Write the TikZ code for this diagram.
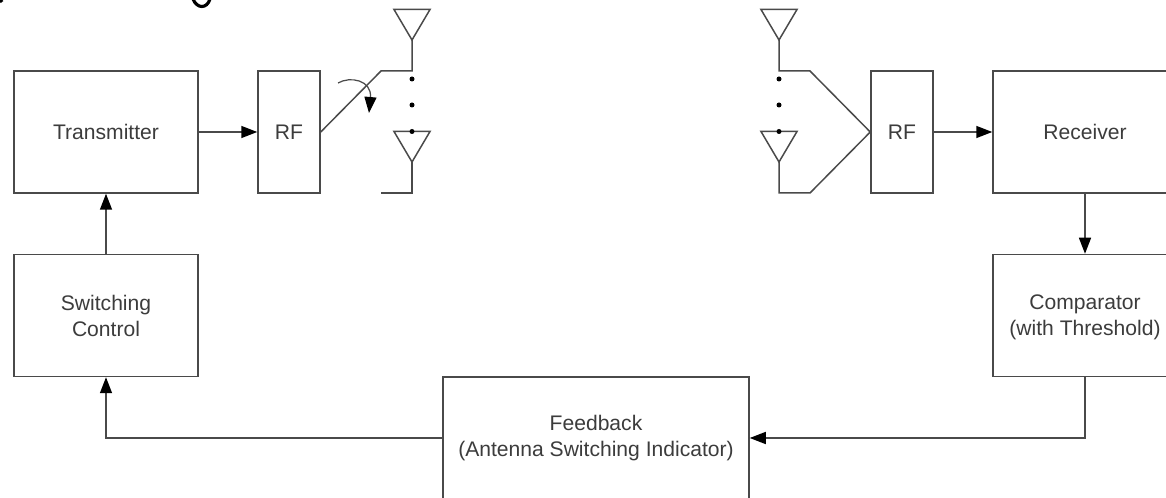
\documentclass[tikz,border=0pt]{standalone}
\usepackage{fontspec}
\setmainfont{Liberation Sans}
\usepackage{xcolor}
\usepackage{tikz}
\usetikzlibrary{arrows.meta}
\definecolor{linegray}{HTML}{4A4A4A}
\definecolor{textgray}{HTML}{3C3C3C}

\begin{document}
\begin{tikzpicture}[
            font=\fontsize{12}{14.8}\selectfont,
            >={Triangle[length=0.32cm, width=0.24cm, color=black]},
            line width=0.85pt,
            every node/.style={align=center, text=textgray},
            block/.style={draw=linegray, line width=0.85pt, minimum height=2.44cm, inner sep=0pt},
            wide/.style={block, minimum width=3.68cm},
            narrow/.style={block, minimum width=1.24cm},
            link/.style={draw=linegray, ->},
            aerial/.style={draw=linegray, line join=miter}
        ]
        \useasboundingbox (0, 0) rectangle (23.32, 9.96);

        % Vertical placement of rows
        \def\ytop{7.32}    % Transmitter and receiver row
        \def\ymid{3.65}    % Switching control and comparator row
        \def\ybot{1.20}    % Feedback row

        % Antenna levels
        \def\atop{9.77}    % Upper triangle top
        \def\atip{9.16}    % Upper triangle tip
        \def\ahi{8.54}     % Upper feed
        \def\btop{7.33}    % Lower triangle top
        \def\btip{6.72}    % Lower triangle tip
        \def\alo{6.10}     % Lower feed

        % Antenna columns
        \def\xtx{8.24}     % Transmit antennas
        \def\xrx{15.58}    % Receive antennas
        \def\ahalf{0.36}   % Half width of a triangle

        % --- Blocks ---
        \node[wide] (transmitter) at (2.12, \ytop) {Transmitter};
        \node[narrow] (rftx) at (5.78, \ytop) {RF};
        \node[narrow] (rfrx) at (18.04, \ytop) {RF};
        \node[wide] (receiver) at (21.70, \ytop) {Receiver};
        \node[wide] (control) at (2.12, \ymid) {Switching\\Control};
        \node[wide, text depth=0pt] (comparator) at (21.70, \ymid) {Comparator\\(with Threshold)};
        \node[block, minimum width=6.12cm] (feedback) at (11.92, \ybot) {Feedback\\(Antenna Switching Indicator)};

        % --- Connectors ---
        \draw[link] (transmitter) -- (rftx);
        \draw[link] (rfrx) -- (receiver);
        \draw[link] (receiver) -- (comparator);
        \draw[link] (control) -- (transmitter);
        \draw[link] (comparator.south) |- (feedback.east);
        \draw[link] (feedback.west) -| (control.south);

        % --- Transmit antennas ---
        \coordinate (txhi) at (\xtx, \ahi);
        \coordinate (txlo) at (\xtx, \alo);
        \coordinate (txarm) at (7.62, \ahi);
        \coordinate (txgap) at (7.62, \alo);
        \draw[aerial] (\xtx-\ahalf, \atop) -- (\xtx+\ahalf, \atop) -- (\xtx, \atip) -- cycle;
        \draw[aerial] (\xtx-\ahalf, \btop) -- (\xtx+\ahalf, \btop) -- (\xtx, \btip) -- cycle;
        \draw[aerial] (\xtx, \atip) -- (txhi) -- (txarm) -- (rftx.east);
        \draw[aerial] (\xtx, \btip) -- (txlo) -- (txgap);
        \fill[black] (\xtx, 8.38) circle (0.05);
        \fill[black] (\xtx, 7.86) circle (0.05);
        \fill[black] (\xtx, \btop) circle (0.05);

        % Switch movement
        \draw[draw=linegray, line width=0.7pt, ->] (6.76, 8.30) .. controls (7.00, 8.44) and (7.44, 8.36) .. (7.38, 7.70);

        % --- Receive antennas ---
        \coordinate (rxhi) at (\xrx, \ahi);
        \coordinate (rxlo) at (\xrx, \alo);
        \coordinate (rxarm) at (16.20, \ahi);
        \coordinate (rxfoot) at (16.20, \alo);
        \draw[aerial] (\xrx-\ahalf, \atop) -- (\xrx+\ahalf, \atop) -- (\xrx, \atip) -- cycle;
        \draw[aerial] (\xrx-\ahalf, \btop) -- (\xrx+\ahalf, \btop) -- (\xrx, \btip) -- cycle;
        \draw[aerial] (\xrx, \atip) -- (rxhi) -- (rxarm) -- (rfrx.west);
        \draw[aerial] (\xrx, \btip) -- (rxlo) -- (rxfoot) -- (rfrx.west);
        \fill[black] (\xrx, 8.38) circle (0.05);
        \fill[black] (\xrx, 7.86) circle (0.05);
        \fill[black] (\xrx, \btop) circle (0.05);

        % --- Cut-off strokes along the top edge ---
        \draw[black, line width=1.8pt] (3.86, 9.98) .. controls (3.94, 9.78) and (4.14, 9.78) .. (4.20, 9.98);
        \draw[black, line width=1.5pt] (0, 9.92) -- (0.05, 9.96);

        \end{tikzpicture}
\end{document}
